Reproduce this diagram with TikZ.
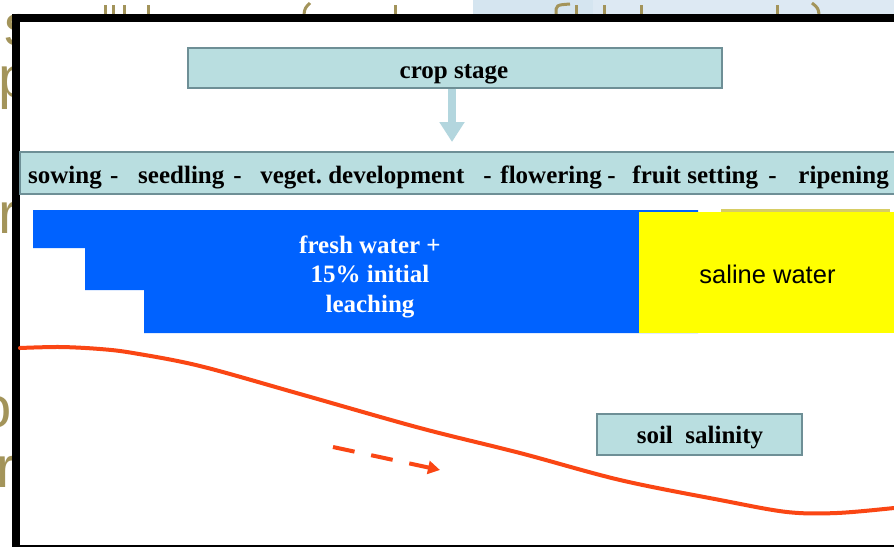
\documentclass[tikz,border=0pt]{standalone}
\usepackage{fontspec}
\setmainfont{Liberation Serif}
\newfontfamily\arialf{Liberation Sans}
\usetikzlibrary{arrows.meta}
\definecolor{cyanfill}{RGB}{185,222,224}
\definecolor{cyanline}{RGB}{110,143,150}
\definecolor{arrowc}{RGB}{179,214,222}
\definecolor{freshblue}{RGB}{0,98,255}
\definecolor{salineyel}{RGB}{255,255,0}
\definecolor{khaki}{RGB}{215,205,100}
\definecolor{curvered}{RGB}{250,70,20}
\definecolor{olive}{RGB}{163,148,90}
\definecolor{bgblueA}{RGB}{213,229,240}
\definecolor{bgblueB}{RGB}{221,233,243}
\tikzset{
  cyanbox/.style={draw=cyanline, line width=1.2pt, fill=cyanfill, inner sep=0pt,
    font=\fontsize{25}{28}\selectfont\bfseries},
  bgtext/.style={text=olive, inner sep=0pt, font=\arialf\fontsize{58}{60}\selectfont},
  stub/.style={draw=olive, line width=3pt},
  bigarrow/.style={draw=arrowc, line width=8pt, -{Triangle[width=24pt,length=20pt]}},
  salinity/.style={draw=curvered, line width=4pt, line cap=round},
  trend/.style={draw=curvered, line width=4pt, dash pattern=on 22pt off 17pt,
    -{Triangle[width=13pt,length=12pt]}},
  whitetext/.style={text=white, align=center, inner sep=0pt,
    font=\fontsize{25}{29.5}\selectfont\bfseries},
}
\begin{document}
\begin{tikzpicture}[x=1pt,y=-1pt]
\useasboundingbox (0,0) rectangle (894,547);
% slide behind the picture
\fill[bgblueA] (473,0) rectangle (593,14);
\fill[bgblueB] (593,0) rectangle (894,14);
\node[bgtext, anchor=base west] (b1) at (-9,45) {is};
\node[bgtext, anchor=base west] (b2) at (-2,97) {p};
\node[bgtext, anchor=base west] (b3) at (-2,233) {rc};
\node[bgtext, anchor=base west] (b4) at (-21,427) {o};
\node[bgtext, anchor=base west] (b5) at (-4,487) {r};
\foreach \sx in {105,113,124,148,395,576,604,641,777}{
  \draw[stub] (\sx,5) -- (\sx,14);
}
\draw[stub] (310,3) .. controls (305,8) .. (304,14);
\draw[stub] (570,4) .. controls (556,5) .. (556,14);
\draw[stub] (812,3) .. controls (818,8) .. (819,14);
% frame of the picture
\fill[black] (12,14) rectangle (900,547);
\fill[white] (20,22) rectangle (900,545);
% crop stage
\node[cyanbox, minimum width=534pt, minimum height=40pt] (crop) at (455,68) {};
\node[anchor=base, inner sep=0pt, font=\fontsize{25}{28}\selectfont\bfseries] (croplbl) at (454,78) {crop stage};
\coordinate (tip) at (452,142);
\draw[bigarrow] (crop.south -| tip) -- (tip);
% stage bar
\node[cyanbox, minimum width=880pt, minimum height=42pt] (stages) at (460,173) {};
\node[anchor=base west, inner sep=0pt, font=\fontsize{25}{28}\selectfont\bfseries] (stagelbl) at (28,183)
  {sowing\hspace{8.4pt}-\hspace{19.7pt}seedling\hspace{8.9pt}-\hspace{18.7pt}veget.~development\hspace{19pt}-\hspace{8.7pt}flowering\hspace{5.6pt}-\hspace{16.7pt}fruit setting\hspace{10.3pt}-\hspace{21.7pt}ripening};
% fresh water staircase
\fill[khaki] (721,209) rectangle (890,214);
\fill[freshblue] (33,210) -- (698,210) -- (698,333) -- (144,333) -- (144,290)
  -- (85,290) -- (85,248) -- (33,248) -- cycle;
\node[whitetext, anchor=base] (fresh) at (370,312) {fresh water +\\15\% initial\\leaching};
% saline water
\node[fill=salineyel, minimum width=255pt, minimum height=121pt, inner sep=0pt,
  anchor=north west] (saline) at (639,212) {};
\node[anchor=base, inner sep=0pt, font=\arialf\fontsize{25.5}{28}\selectfont] (salinelbl) at (767.5,283) {saline water};
% soil salinity curve
\draw[salinity] plot[smooth, tension=0.55] coordinates {(20,348) (60,347) (100,349) (133,353)
  (200,366) (300,394) (420,428) (520,453) (620,480) (720,500) (787,512) (837,513) (894,508)};
\coordinate (d1) at (333,447);
\coordinate (d2) at (440,470);
\draw[trend] (d1) -- (d2);
\node[cyanbox, minimum width=205pt, minimum height=41pt] (soil) at (699.5,434.5) {};
\node[anchor=base, inner sep=0pt, font=\fontsize{25}{28}\selectfont\bfseries] (soillbl) at (700,443) {soil\hspace{6.25pt} salinity};
\end{tikzpicture}
\end{document}
